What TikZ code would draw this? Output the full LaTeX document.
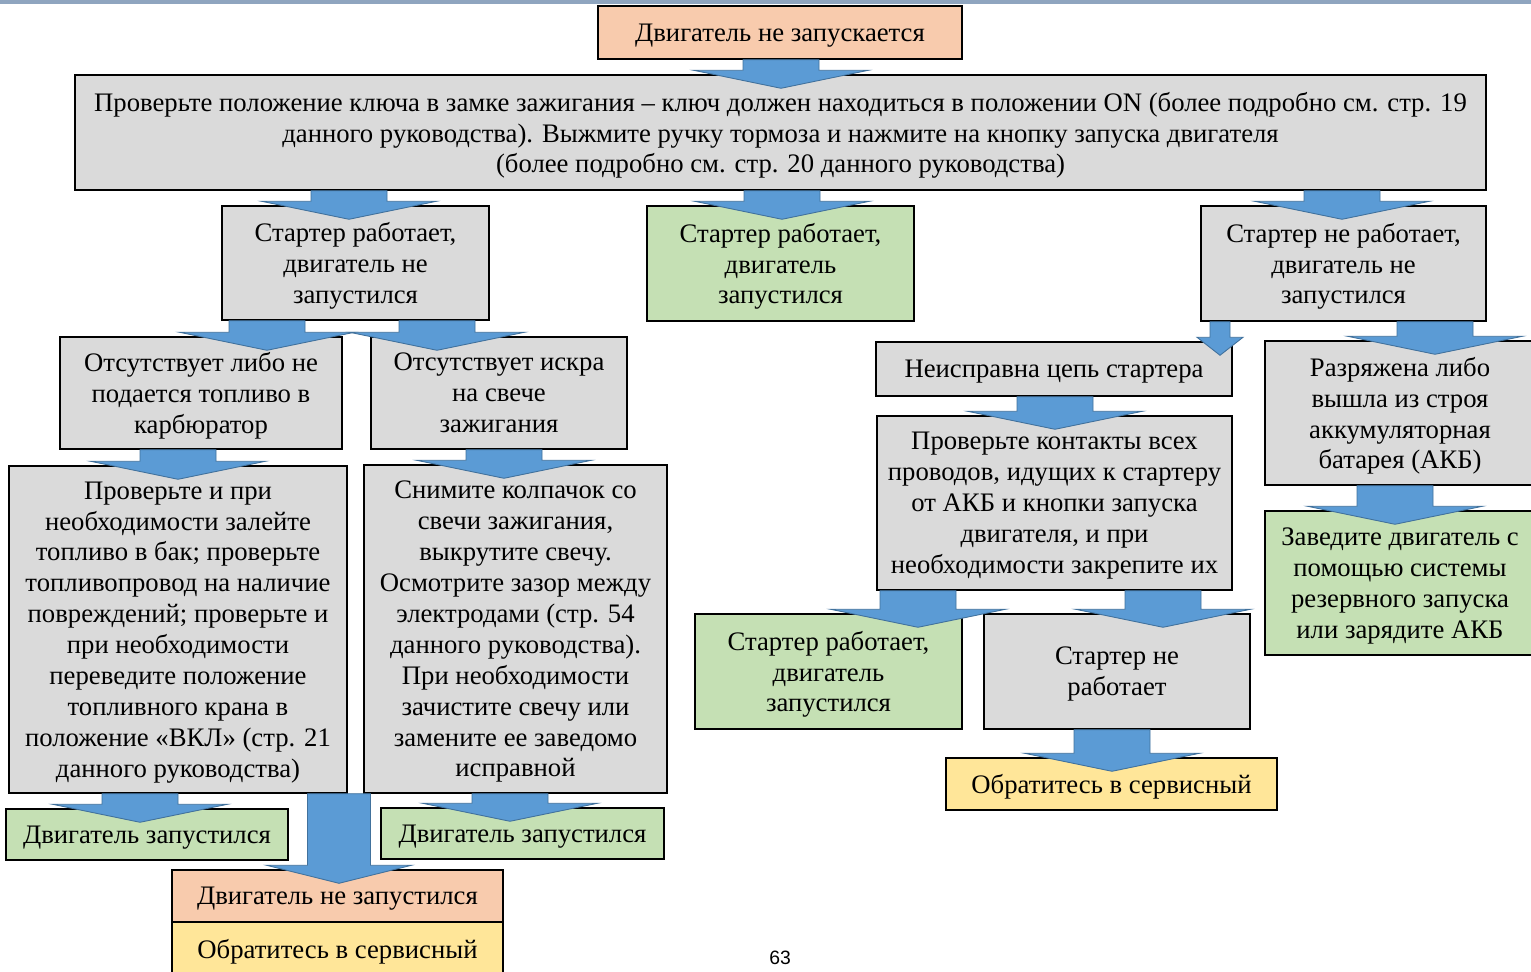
\documentclass[tikz,border=0pt]{standalone}
\usepackage{fontspec}
\setmainfont{Liberation Serif}
\setsansfont{Liberation Sans}
\usetikzlibrary{calc}

\definecolor{boxgrey}{HTML}{DADADA}
\definecolor{boxgreen}{HTML}{C5E0B4}
\definecolor{boxorange}{HTML}{F8CBAD}
\definecolor{boxyellow}{HTML}{FFE699}
\definecolor{flowblue}{HTML}{5B9BD5}
\definecolor{flowedge}{HTML}{41719C}
\definecolor{topbar}{HTML}{8FA5BF}

\tikzset{
  box/.style={draw=black, line width=0.8pt, inner sep=0pt, align=center,
    text depth=0pt, font=\fontsize{15.2}{17.6}\selectfont},
  greybox/.style={box, fill=boxgrey},
  greenbox/.style={box, fill=boxgreen},
  orangebox/.style={box, fill=boxorange},
  yellowbox/.style={box, fill=boxyellow},
  sz/.style 2 args={minimum width=#1*0.02cm, minimum height=#2*0.02cm},
  flowarrow/.style={fill=flowblue, draw=flowedge, line width=0.5pt}
}

% block arrow: [shaft half width] source, target, x of the arrow
\newcommand{\flow}[4][38]{%
  \path (#4,0 |- #2.south) coordinate (ft)
        ($(#4,0 |- #3.north)+(0,-4)$) coordinate (fb);
  \draw[flowarrow] ($(ft)+(-#1,0)$) -- ($(ft)+(#1,0)$) -- ($(fb)+(#1,0)$)
    -- ($(fb)+(2.3*#1,0)$) -- ($(fb)+(0,18)$) -- ($(fb)+(-2.3*#1,0)$)
    -- ($(fb)+(-#1,0)$) -- cycle;
}

\begin{document}
\begin{tikzpicture}[x=0.02cm, y=-0.02cm]
\useasboundingbox (0,0) rectangle (1531,972);
\fill[topbar] (0,0) rectangle (1531,4);

% First two steps
\node[orangebox, sz={364}{53}] (start) at (780,32.5) {Двигатель не запускается};
\node[greybox, sz={1411}{115}] (check) at (780.5,132.5) {Проверьте положение ключа в замке зажигания – ключ должен находиться в положении ON (более подробно см. стр. 19\\
данного руководства). Выжмите ручку тормоза и нажмите на кнопку запуска двигателя\\
(более подробно см. стр. 20 данного руководства)};

% Three outcomes
\node[greybox, sz={267}{114}] (runnostart) at (355.5,263) {Стартер работает,\\двигатель не\\запустился};
\node[greenbox, sz={267}{115}] (runstart) at (780.5,263.5) {Стартер работает,\\двигатель\\запустился};
\node[greybox, sz={285}{115}] (norun) at (1343.5,263.5) {Стартер не работает,\\двигатель не\\запустился};

% Left branch
\node[greybox, sz={282}{112}] (nofuel) at (201,393) {Отсутствует либо не\\подается топливо в\\карбюратор};
\node[greybox, sz={256}{112}] (nospark) at (499,393) {Отсутствует искра\\на свече\\зажигания};
\node[greybox, sz={338}{327}] (fuelfix) at (178,629.5) {Проверьте и при\\необходимости залейте\\топливо в бак; проверьте\\топливопровод на наличие\\повреждений; проверьте и\\при необходимости\\переведите положение\\топливного крана в\\положение «ВКЛ» (стр. 21\\данного руководства)};
\node[greybox, sz={303}{328}] (sparkfix) at (515.5,629) {Снимите колпачок со\\свечи зажигания,\\выкрутите свечу.\\Осмотрите зазор между\\электродами (стр. 54\\данного руководства).\\При необходимости\\зачистите свечу или\\замените ее заведомо\\исправной};
\node[greenbox, sz={282}{51}] (fuelok) at (147,834.5) {Двигатель запустился};
\node[greenbox, sz={283}{51}] (sparkok) at (522.5,833.5) {Двигатель запустился};
\node[orangebox, sz={331}{52}] (fail) at (337.5,896) {Двигатель не запустился};
\node[yellowbox, sz={331}{54}] (service1) at (337.5,949) {Обратитесь в сервисный};

% Right branch
\node[greybox, sz={356}{54}] (circuit) at (1054,369) {Неисправна цепь стартера};
\node[greybox, sz={270}{144}] (battery) at (1400,413) {Разряжена либо\\вышла из строя\\аккумуляторная\\батарея (АКБ)};
\node[greybox, sz={355}{174}] (contacts) at (1054.5,503) {Проверьте контакты всех\\проводов, идущих к стартеру\\от АКБ и кнопки запуска\\двигателя, и при\\необходимости закрепите их};
\node[greenbox, sz={270}{144}] (backup) at (1400,583) {Заведите двигатель с\\помощью системы\\резервного запуска\\или зарядите АКБ};
\node[greenbox, sz={267}{115}] (circok) at (828.5,671.5) {Стартер работает,\\двигатель\\запустился};
\node[greybox, sz={266}{115}] (circfail) at (1117,671.5) {Стартер не\\работает};
\node[yellowbox, sz={331}{52}] (service2) at (1111.5,784) {Обратитесь в сервисный};

% Arrows
\flow{start}{check}{781}
\flow{check}{runnostart}{349}
\flow{check}{runstart}{782}
\flow{check}{norun}{1342}
\flow{runnostart}{nofuel}{267}
\flow{runnostart}{nospark}{437}
\flow[10]{norun}{circuit}{1220}
\flow{norun}{battery}{1435}
\flow{nofuel}{fuelfix}{178}
\flow{nospark}{sparkfix}{504}
\flow{circuit}{contacts}{1055}
\flow{battery}{backup}{1395}
\flow{contacts}{circok}{918}
\flow{contacts}{circfail}{1163}
\flow{circfail}{service2}{1112}
\flow{fuelfix}{fuelok}{140}
\flow{sparkfix}{sparkok}{510}
\flow[31.5]{fuelfix}{fail}{339}

\node[font=\sffamily\fontsize{11}{13}\selectfont] (page) at (780,958) {63};
\end{tikzpicture}
\end{document}
